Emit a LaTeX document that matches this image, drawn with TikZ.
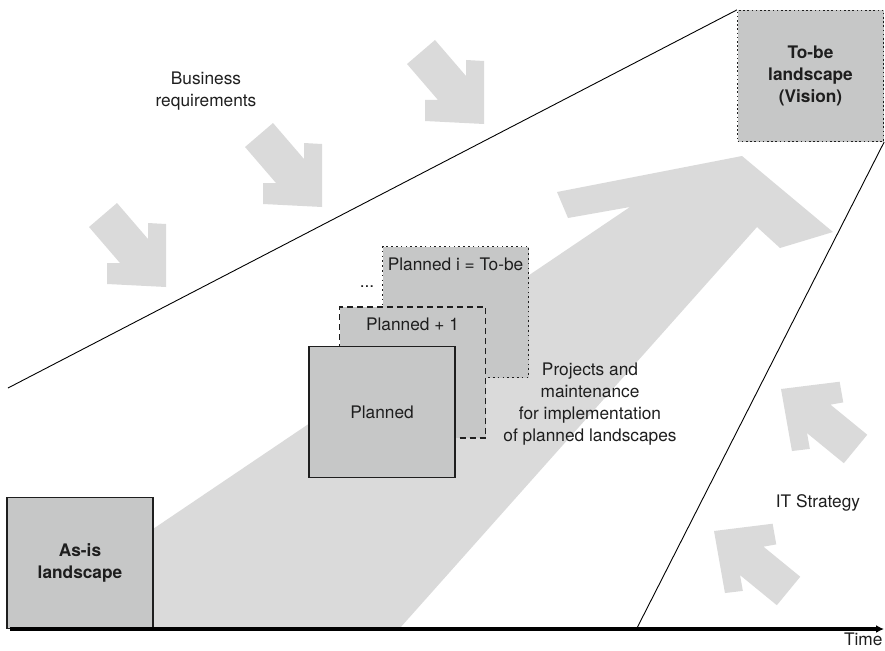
\documentclass[tikz,border=0pt]{standalone}
\usepackage{fontspec}
\setmainfont{TeX Gyre Heros}
\usetikzlibrary{arrows.meta, positioning}

\definecolor{boxgray}{RGB}{198,199,199}
\definecolor{arrowgray}{RGB}{218,218,218}
\definecolor{inkgray}{RGB}{30,30,30}

\tikzset{
	pics/pusharrow/.style={code={
		\fill[arrowgray] (0,0) -- (-59,-3) -- (-59,-24) -- (-46,-24) -- (-77,-60) -- (-49,-84)
			-- (-18,-48) -- (-18,-64) -- (0,-63) -- cycle;
	}}
}

\begin{document}
\begin{tikzpicture}
	[x=1pt, y=-1pt,
	every node/.style={font=\fontsize{17.3pt}{22pt}\selectfont, align=center, text=inkgray},
	bold/.style={font=\fontsize{17.3pt}{22pt}\selectfont\bfseries},
	landscape/.style={draw=inkgray, fill=boxgray, line width=1.2pt, minimum width=146pt, minimum height=131pt, inner sep=0pt},
	dashbox/.style={landscape, dash pattern=on 6pt off 4pt},
	dotbox/.style={landscape, dash pattern=on 1.6pt off 3.2pt},
	border/.style={line width=0.9pt}]
	\useasboundingbox (0,0) rectangle (885,650);

	% big arrow of the projects
	\fill[arrowgray] (153,628) -- (153,529) -- (630,207) -- (568,218) -- (557,192) -- (742,156)
		-- (833,232) -- (780,248) -- (757,227) -- (400,628) -- cycle;

	% business requirements and IT strategy
	\pic at (166,287) {pusharrow};
	\pic at (322,207) {pusharrow};
	\pic at (484,124) {pusharrow};
	\pic[rotate=190] at (781,389) {pusharrow};
	\pic[rotate=190] at (714,531) {pusharrow};

	% landscapes
	\node[landscape, bold] (asis) at (80,563) {As-is\\landscape};
	\node[dotbox] (plani) at (455.5,312) {};
	\node[below=8pt of plani.north] (planilabel) {Planned i = To-be};
	\node[dashbox] (plus1) at (412.5,372.5) {};
	\node[below=8pt of plus1.north] (plus1label) {Planned + 1};
	\node[landscape] (planned) at (382,412) {Planned};
	\node (dots) at (367,287) {...};
	\node[landscape, bold, dash pattern=on 1.6pt off 2.6pt] (tobe) at (810.5,76) {To-be\\landscape\\(Vision)};

	% texts
	\node (busreq) at (206,91) {Business\\requirements};
	\node (projects) at (590,404) {Projects and\\maintenance\\for implementation\\of planned landscapes};
	\node (itstrat) at (818,503) {IT Strategy};

	% borders of the way to the vision
	\coordinate (reqstart) at (8,388);
	\coordinate (stratend) at (637,628);
	\draw[border] (reqstart) -- (tobe.north west);
	\draw[border] (tobe.south east) -- (stratend);

	% time axis
	\coordinate (origin) at (10,629);
	\coordinate (timeend) at (884,629);
	\draw[line width=3.2pt, -{Latex[length=8pt, width=8pt]}] (origin) -- (timeend);
	\node[anchor=north east] (time) at (886,629) {Time};
\end{tikzpicture}
\end{document}
